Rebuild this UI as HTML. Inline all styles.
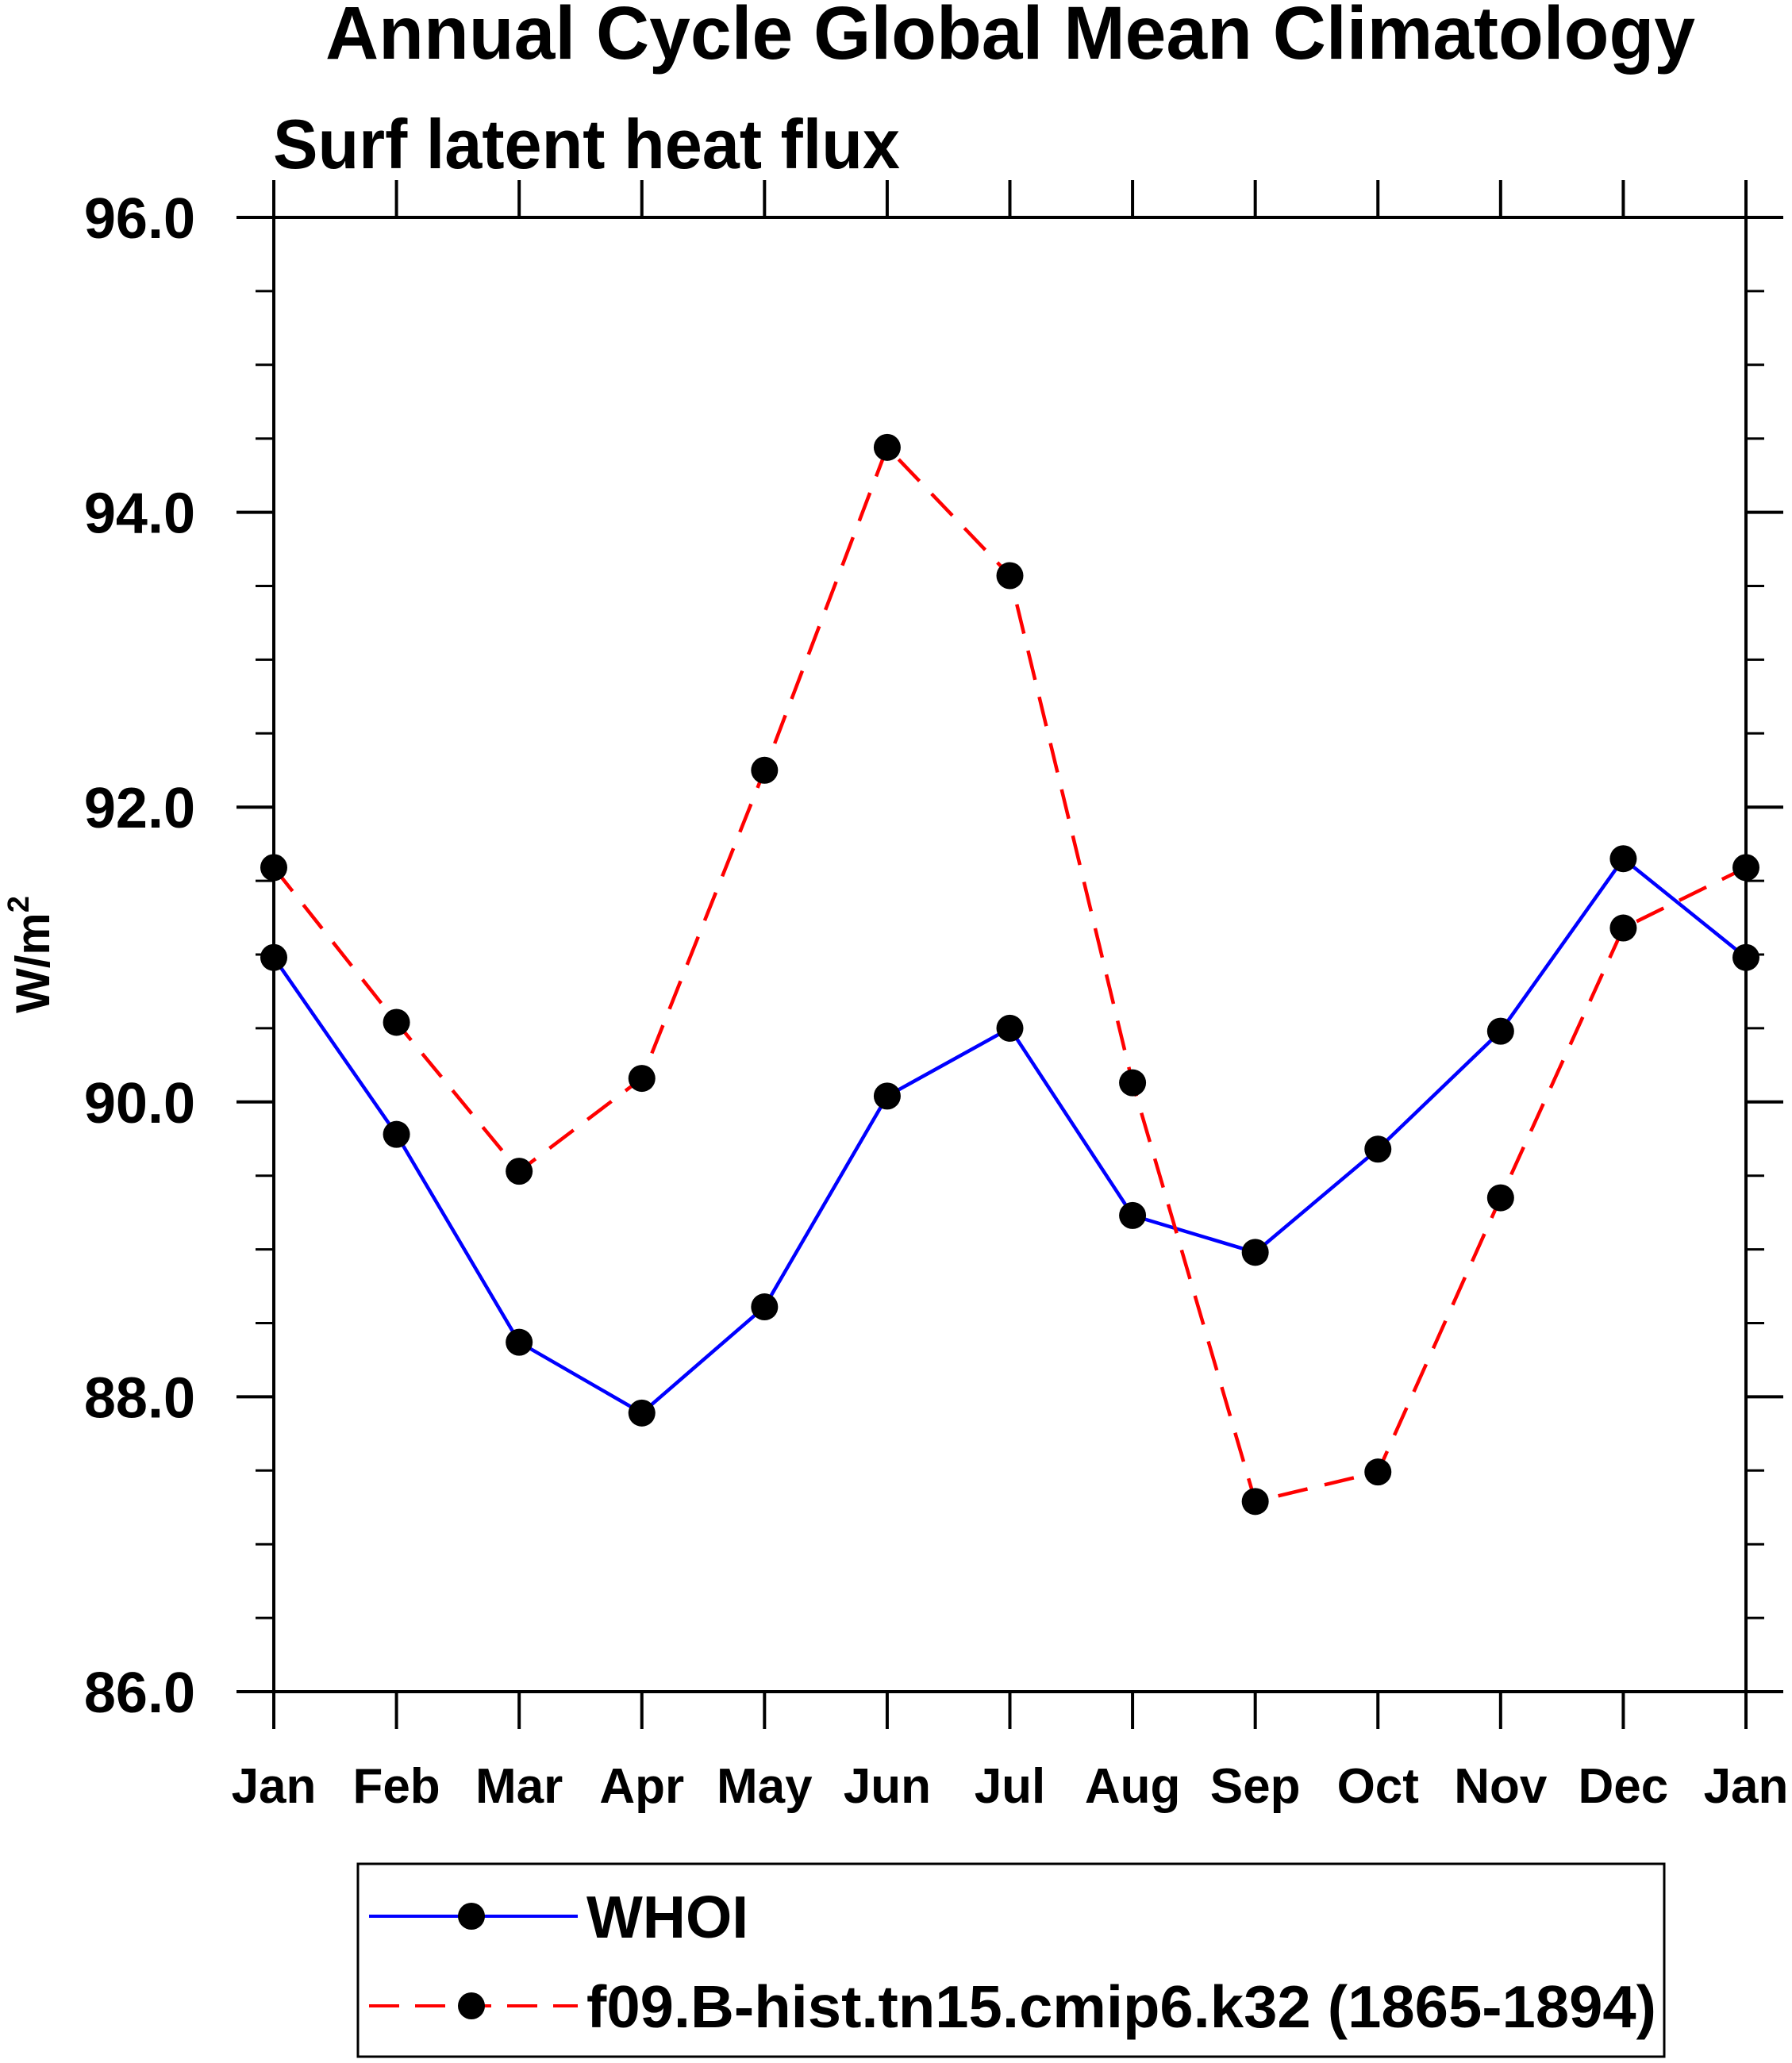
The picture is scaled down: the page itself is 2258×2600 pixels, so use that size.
<!DOCTYPE html>
<html><head><meta charset="utf-8"><style>
html,body{margin:0;padding:0;background:#fff;}
svg{display:block;font-family:"Liberation Sans",Arial,sans-serif;font-weight:bold;}
</style></head><body>
<svg id="chart" width="2258" height="2600" viewBox="0 0 2258 2600" xmlns="http://www.w3.org/2000/svg">
<text x="1273" y="74" font-size="95" text-anchor="middle" textLength="1726" lengthAdjust="spacingAndGlyphs">Annual Cycle Global Mean Climatology</text>
<text x="344" y="212" font-size="88" textLength="790" lengthAdjust="spacingAndGlyphs">Surf latent heat flux</text>
<text transform="translate(62,1203) rotate(-90)" font-size="60" text-anchor="middle">W/m<tspan font-size="38" dy="-26">2</tspan></text>
<g id="axes"></g>
<g id="series"></g>
<g>
<rect x="451" y="2349" width="1646" height="243" fill="none" stroke="#000" stroke-width="3"/>
<g>
<line x1="465" y1="2415" x2="728" y2="2415" stroke="#00f" stroke-width="4"/>
<circle cx="594" cy="2415" r="17" fill="#000"/>
<text x="739" y="2442" font-size="75">WHOI</text>
</g>
<g>
<line x1="465" y1="2528" x2="728" y2="2528" stroke="#f00" stroke-width="4" stroke-dasharray="38,20"/>
<circle cx="594" cy="2528" r="17" fill="#000"/>
<text x="739" y="2555" font-size="75" textLength="1348" lengthAdjust="spacingAndGlyphs">f09.B-hist.tn15.cmip6.k32 (1865-1894)</text>
</g>
</g>
</svg>
<script>
const months = ["Jan","Feb","Mar","Apr","May","Jun","Jul","Aug","Sep","Oct","Nov","Dec","Jan"];
const whoiValues = [90.98,89.78,88.37,87.89,88.61,90.04,90.5,89.23,88.98,89.68,90.48,91.65,90.98];
const modelValues = [91.59,90.54,89.53,90.16,92.25,94.44,93.57,90.13,87.29,87.49,89.35,91.18,91.59];
const yTickLabels = ["86.0","88.0","90.0","92.0","94.0","96.0"];
const yMin = 86, yMax = 96;

const L=345,R=2200,T=274,B=2132;
const NS="http://www.w3.org/2000/svg";
function xs(i){return L+(R-L)*i/(months.length-1);}
function ys(v){return B-(B-T)*(v-yMin)/(yMax-yMin);}
function mk(tag,attrs,parent){const e=document.createElementNS(NS,tag);for(const k in attrs)e.setAttribute(k,attrs[k]);parent.appendChild(e);return e;}
const ax=document.getElementById('axes');
let frame=mk('rect',{x:L,y:T,width:R-L,height:B-T,fill:'none',stroke:'#000','stroke-width':4},ax);


months.forEach((m,i)=>{
  const x=xs(i);
  let t1=mk('line',{x1:x,y1:B,x2:x,y2:B+47,stroke:'#000','stroke-width':4},ax);
  
  
  let t2=mk('line',{x1:x,y1:T,x2:x,y2:T-47,stroke:'#000','stroke-width':4},ax);
  
  
  let lb=mk('text',{x:x,y:2272,'font-size':62,'text-anchor':'middle'},ax);
  lb.textContent=m;
  
  
});
for(let k=0;k<=20;k++){
  const v=yMin+k*0.5, y=ys(v), major=(k%4===0);
  const len=major?47:23;
  let a=mk('line',{x1:L-len,y1:y,x2:L,y2:y,stroke:'#000','stroke-width':major?4:3},ax);
  
  
  let b=mk('line',{x1:R,y1:y,x2:R+len,y2:y,stroke:'#000','stroke-width':major?4:3},ax);
  
  
}
yTickLabels.forEach((s,i)=>{
  const v=yMin+i*2;
  let lb=mk('text',{x:246,y:ys(v)+26,'font-size':72,'text-anchor':'end'},ax);
  lb.textContent=s;
  
  
});
const sg=document.getElementById('series');
function series(vals,color,dash,name){
  const pts=vals.map((v,i)=>xs(i)+','+ys(v)).join(' ');
  let pl=mk('polyline',{points:pts,fill:'none',stroke:color,'stroke-width':4.5},sg);
  if(dash)pl.setAttribute('stroke-dasharray',dash);
  
  
  vals.forEach((v,i)=>{
    let c=mk('circle',{cx:xs(i),cy:ys(v),r:17,fill:'#000'},sg);
    
    
  });
}
series(whoiValues,'#00f',null,'whoi');
series(modelValues,'#f00','38,22','model');
</script>
</body></html>
